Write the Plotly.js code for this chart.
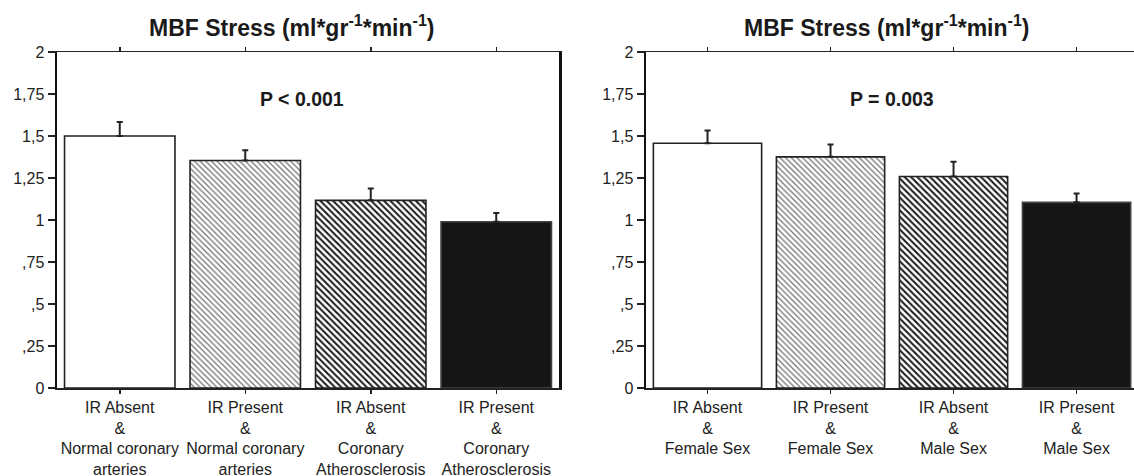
<!DOCTYPE html>
<html>
<head>
<meta charset="utf-8">
<script src="https://cdn.plot.ly/plotly-3.0.1.min.js"></script>
<style>html,body{margin:0;padding:0;background:#fff;}#chart{width:1134px;height:476px;}</style>
</head>
<body>
<div id="chart"></div>
<script>
// ---- data ----
const leftCategories = [
  "IR Absent<br>&<br>Normal coronary<br>arteries",
  "IR Present<br>&<br>Normal coronary<br>arteries",
  "IR Absent<br>&<br>Coronary<br>Atherosclerosis",
  "IR Present<br>&<br>Coronary<br>Atherosclerosis"
];
const leftValues = [1.50, 1.354, 1.117, 0.99];
const leftErrors = [0.084, 0.061, 0.070, 0.052];
const leftP = "P < 0.001";

const rightCategories = [
  "IR Absent<br>&<br>Female Sex",
  "IR Present<br>&<br>Female Sex",
  "IR Absent<br>&<br>Male Sex",
  "IR Present<br>&<br>Male Sex"
];
const rightValues = [1.457, 1.376, 1.259, 1.105];
const rightErrors = [0.075, 0.073, 0.088, 0.052];
const rightP = "P = 0.003";

const chartTitle = "MBF Stress (ml*gr<sup>-1</sup>*min<sup>-1</sup>)";
const yTickVals = [0, 0.25, 0.5, 0.75, 1, 1.25, 1.5, 1.75, 2];
const yTickText = ["0", ",25", ",5", ",75", "1", "1,25", "1,5", "1,75", "2"];

// ---- styles ----
const FONT = "Liberation Sans, Arial, Helvetica, sans-serif";
const barStyles = [
  { color: "#ffffff", line: "#222222" },
  { color: "#ffffff", line: "#222222", pattern: { shape: "\\", fgcolor: "#707070", bgcolor: "#ffffff", size: 4, solidity: 0.3 } },
  { color: "#ffffff", line: "#222222", pattern: { shape: "\\", fgcolor: "#1a1a1a", bgcolor: "#ffffff", size: 4.5, solidity: 0.45 } },
  { color: "#151515", line: "#444444" }
];

function barTraces(vals, errs, xa, ya) {
  return vals.map((v, i) => {
    const st = barStyles[i];
    const marker = { color: st.color, line: { color: st.line, width: 1.6 } };
    if (st.pattern) marker.pattern = st.pattern;
    return {
      type: "bar",
      x: [i], y: [v],
      width: 0.88,
      xaxis: xa, yaxis: ya,
      marker: marker,
      error_y: { type: "data", symmetric: false, array: [errs[i]], arrayminus: [0],
                 color: "#222", thickness: 2, width: 3 },
      hoverinfo: "none", showlegend: false
    };
  });
}

const traces = barTraces(leftValues, leftErrors, "x", "y")
  .concat(barTraces(rightValues, rightErrors, "x2", "y2"));

function xAxis(domain, cats, range, anchor) {
  return {
    domain: domain, anchor: anchor, range: range,
    tickmode: "array", tickvals: cats.map((_, i) => i), ticktext: cats,
    ticks: "outside", ticklen: 4, tickwidth: 1.5, tickcolor: "#222",
    showline: true, linecolor: "#222", linewidth: 1.5, mirror: "ticks",
    showgrid: false, zeroline: false, fixedrange: true,
    tickfont: { family: FONT, size: 16, color: "#222" }
  };
}
function yAxis(anchor, mirror) {
  return {
    domain: [0, 1], anchor: anchor, range: [0, 2],
    tickmode: "array", tickvals: yTickVals, ticktext: yTickText,
    ticks: "outside", ticklen: 7, tickwidth: 1.5, tickcolor: "#222",
    showline: true, linecolor: "#111", linewidth: 2.5, mirror: mirror,
    showgrid: false, zeroline: false, fixedrange: true,
    tickfont: { family: FONT, size: 16, color: "#222" }
  };
}

const W = 1134;
const leftDom = [57 / W, 559 / W];
const rightDom = [646 / W, 1];

const layout = {
  width: 1134, height: 476,
  margin: { l: 0, r: 0, t: 52, b: 88 },
  paper_bgcolor: "#fff", plot_bgcolor: "#fff",
  barmode: "overlay",
  xaxis: xAxis(leftDom, leftCategories, [-0.5, 3.5], "y"),
  yaxis: yAxis("x", true),
  xaxis2: xAxis(rightDom, rightCategories, [-0.5, 3.467], "y2"),
  yaxis2: yAxis("x2", false),
  annotations: [
    { text: chartTitle, xref: "paper", yref: "paper", x: 292 / W, y: 1.077, xanchor: "center", yanchor: "middle",
      showarrow: false, font: { family: FONT, size: 23, color: "#1a1a1a", weight: "bold" } },
    { text: chartTitle, xref: "paper", yref: "paper", x: 887 / W, y: 1.077, xanchor: "center", yanchor: "middle",
      showarrow: false, font: { family: FONT, size: 23, color: "#1a1a1a", weight: "bold" } },
    { text: leftP, xref: "x", yref: "y", x: 1.45, y: 1.72, xanchor: "center", yanchor: "middle",
      showarrow: false, font: { family: FONT, size: 19.5, color: "#1a1a1a", weight: "bold" } },
    { text: rightP, xref: "x2", yref: "y2", x: 1.5, y: 1.72, xanchor: "center", yanchor: "middle",
      showarrow: false, font: { family: FONT, size: 19.5, color: "#1a1a1a", weight: "bold" } }
  ]
};

Plotly.newPlot("chart", traces, layout, { staticPlot: true, displayModeBar: false });
</script>
</body>
</html>
